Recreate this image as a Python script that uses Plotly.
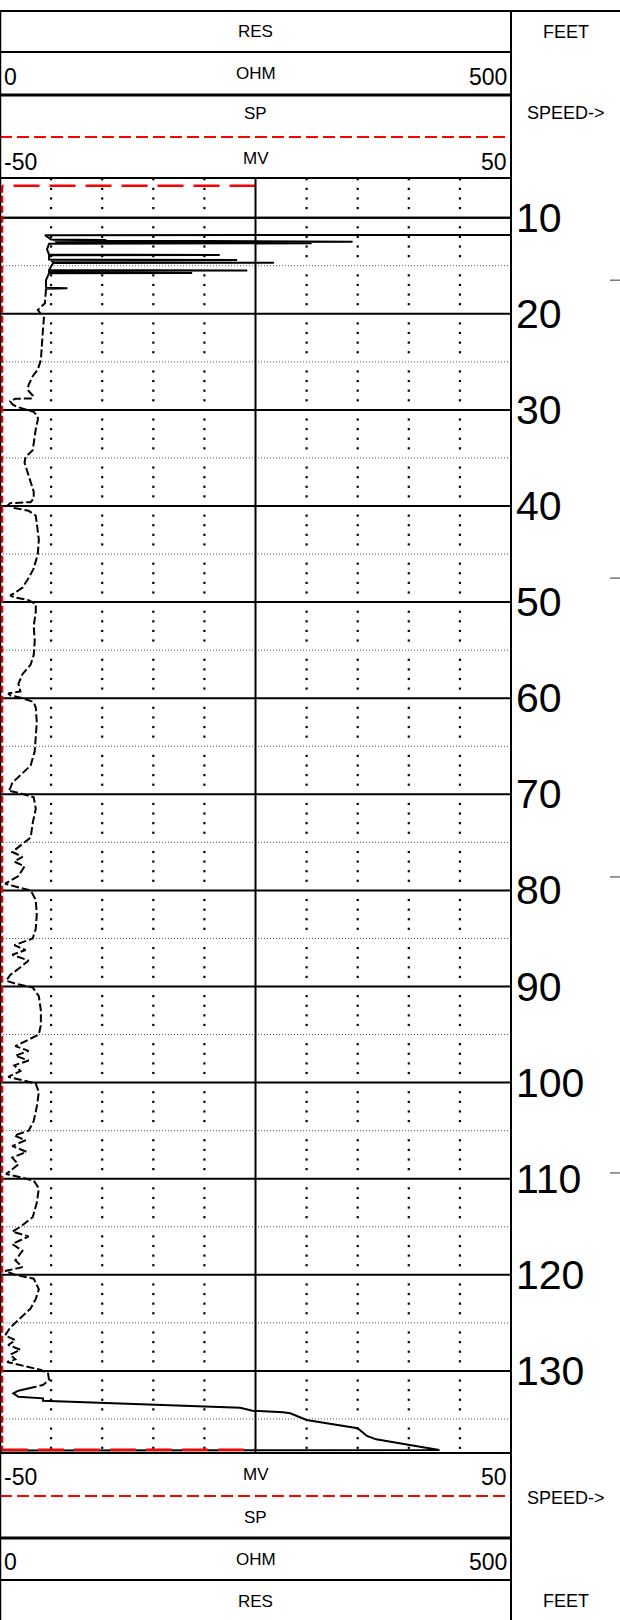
import plotly.graph_objects as go

W, H = 620, 1620

# ---------------------------------------------------------------- curve data
# Resistivity (ohm) against depth (ft): spiky section at the top of the log
res_depth_top = [10.0, 10.02, 11.78, 11.82, 12.28, 12.32, 12.36, 12.50, 12.56, 12.66,
                 12.72, 13.3, 13.84, 13.88, 13.92, 14.36, 14.40, 14.44, 14.64, 14.68,
                 14.72, 15.45, 15.49, 15.53, 15.71, 15.75, 15.79, 16.5, 17.3, 17.35, 17.4]
res_ohm_top = [0, 650, 650, 44, 50, 104, 52, 345, 54, 305,
               48, 46, 48, 215, 48, 48, 232, 50, 52, 268,
               52, 48, 242, 48, 48, 188, 48, 45, 45, 66, 45]

# main body of the log
res_depth_mid = [17.4, 18.9, 19.3, 19.6, 20.0, 20.4, 21.7, 23.0, 24.8, 25.8,
                 26.5, 27.4, 27.9, 28.5, 28.8, 28.85, 29.1, 29.4, 29.7, 30.0,
                 30.2, 30.7, 31.05, 32.0, 33.4, 34.2, 34.9, 35.5, 36.5, 37.5,
                 38.5, 39.2, 39.6, 39.7, 39.9, 40.2, 40.5, 41.0, 42.0, 43.5,
                 45.0, 46.5, 47.5, 48.5, 49.0, 49.3, 49.5, 49.8, 50.2, 51.0,
                 52.5, 54.0, 55.5, 56.5, 57.5, 58.5, 59.3, 59.5, 59.7, 60.0,
                 60.4, 61.0, 62.5, 64.0, 65.5, 67.0, 68.0, 68.8, 69.4, 69.6,
                 69.9, 70.3, 71.5, 73.0, 74.5, 75.5, 76.0, 76.5, 77.0, 77.5,
                 78.5, 79.0, 79.3, 79.6, 80.0, 81.0, 82.5, 84.0, 85.0, 85.7,
                 86.2, 86.7, 87.3, 88.0, 88.8, 89.4, 89.7, 90.1, 91.0, 92.5,
                 94.0, 95.0, 95.7, 96.2, 96.7, 97.2, 97.7, 98.2, 98.8, 99.4,
                 99.7, 100.1, 101.0, 102.5, 104.0, 105.0, 105.5, 106.0, 106.6, 107.2,
                 107.8, 108.5, 109.2, 109.5, 109.8, 110.2, 111.0, 112.5, 114.0, 115.0,
                 115.5, 116.0, 116.8, 117.5, 118.5, 119.2, 119.6, 120.0, 120.4, 121.5,
                 122.5, 123.5, 124.5, 125.5, 126.3, 126.8, 127.3, 127.8, 128.3, 128.8,
                 129.07, 129.9, 130.25, 130.95, 131.46, 131.64]
res_ohm_mid = [45, 44, 40, 37, 40, 43, 42, 41, 40, 37,
               32, 28, 27, 32, 32, 15, 10, 12, 17, 27,
               33, 37, 37, 35, 33, 32, 25, 24, 27, 30,
               33, 33, 30, 10, 8, 14, 28, 35, 36, 38,
               37, 33, 28, 22, 15, 10, 14, 28, 35, 35,
               33, 34, 33, 30, 22, 18, 20, 8, 10, 22,
               33, 35, 36, 35, 34, 30, 20, 12, 10, 8,
               20, 33, 35, 32, 30, 18, 12, 22, 14, 24,
               18, 10, 5, 15, 30, 35, 36, 35, 32, 14,
               25, 12, 28, 20, 10, 6, 15, 32, 38, 40,
               40, 38, 25, 15, 28, 15, 28, 14, 20, 8,
               20, 35, 38, 36, 33, 28, 14, 25, 12, 26,
               12, 18, 10, 6, 18, 33, 38, 36, 32, 20,
               12, 28, 12, 22, 15, 22, 5, 15, 33, 38,
               35, 30, 20, 10, 5, 15, 8, 20, 10, 15,
               7, 40, 47, 48, 42, 35]

# basal section where the tool leaves the formation
res_depth_base = [131.64, 132.06, 132.33, 132.69, 132.85, 133.10, 133.83, 134.14, 134.31, 134.41,
                  135.11, 135.81, 135.97, 136.77, 137.12, 137.89, 138.23, 138.28]
res_ohm_base = [35, 18, 13, 18, 42, 42, 235, 247, 277, 284,
                300, 339, 350, 359, 368, 411, 430, 0]

# Spontaneous potential (mV)
sp_depth = [6.67, 6.67, 138.2, 138.2]
sp_mv = [0.0, -49.6, -49.6, 0.0]

depth_labels = [10, 20, 30, 40, 50, 60, 70, 80, 90, 100, 110, 120, 130, 140]
speed_marks = [16.5, 47.5, 78.6, 109.4]
res_divisions = [50, 100, 150, 200, 300, 350, 400, 450]

TOP_DEPTH, BASE_DEPTH = 5.87, 138.54
RES_RANGE = [0, 500]
SP_RANGE = [-50, 50]

# ---------------------------------------------------------------- geometry
TRACK_RIGHT = 511
PLOT_TOP, PLOT_BOTTOM = 178, 1453
FONT = "Liberation Sans, Arial, sans-serif"
RED = "#ff0000"


def fx(px):
    return px / W


def fy(py):
    return 1 - py / H


fig = go.Figure()

# tick dots on the vertical divisions, one per foot
dot_x, dot_y = [], []
for d in range(6, 139):
    if d % 5 == 0:
        continue
    for v in res_divisions:
        dot_x.append(v)
        dot_y.append(d)
fig.add_trace(go.Scatter(x=dot_x, y=dot_y, mode="markers", hoverinfo="skip",
                         marker=dict(symbol="square", size=2.2, color="black",
                                     line=dict(width=0))))

# SP curve: the dash pattern is stretched along the horizontal runs
sp_parts = [(slice(0, 2), "26px,10px"), (slice(1, 3), "7px,3px"), (slice(2, 4), "26px,10px")]
for part, dash in sp_parts:
    fig.add_trace(go.Scatter(x=sp_mv[part], y=sp_depth[part], xaxis="x2", mode="lines",
                             line=dict(color=RED, width=2.5, dash=dash)))

# resistivity curve
fig.add_trace(go.Scatter(x=res_ohm_top, y=res_depth_top, mode="lines",
                         line=dict(color="black", width=2)))
fig.add_trace(go.Scatter(x=res_ohm_mid, y=res_depth_mid, mode="lines",
                         line=dict(color="black", width=2, dash="8px,3px")))
fig.add_trace(go.Scatter(x=res_ohm_base, y=res_depth_base, mode="lines",
                         line=dict(color="black", width=2)))

shapes = []


def hline_px(y, x0, x1, width=2, color="black", dash="solid"):
    shapes.append(dict(type="line", xref="paper", yref="paper",
                       x0=fx(x0), x1=fx(x1), y0=fy(y), y1=fy(y),
                       line=dict(color=color, width=width, dash=dash)))


def vline_px(x, y0, y1, width=2, color="black"):
    shapes.append(dict(type="line", xref="paper", yref="paper",
                       x0=fx(x), x1=fx(x), y0=fy(y0), y1=fy(y1),
                       line=dict(color=color, width=width)))


# depth grid
for d in range(10, 140, 10):
    shapes.append(dict(type="line", xref="paper", yref="y", x0=0, x1=fx(TRACK_RIGHT),
                       y0=d, y1=d, line=dict(color="black", width=2), layer="below"))
for d in range(15, 140, 10):
    shapes.append(dict(type="line", xref="paper", yref="y", x0=0, x1=fx(TRACK_RIGHT),
                       y0=d, y1=d, line=dict(color="#555", width=1, dash="1px,2px"),
                       layer="below"))
# centre line of the track
shapes.append(dict(type="line", xref="x", yref="paper", x0=250, x1=250,
                   y0=fy(PLOT_BOTTOM), y1=fy(PLOT_TOP), line=dict(color="black", width=2)))

# header block
hline_px(11, 0, W)
hline_px(52, 0, TRACK_RIGHT)
hline_px(95, 0, TRACK_RIGHT, width=3)
hline_px(137, 0, TRACK_RIGHT, width=2, color=RED, dash="12px,5px")
hline_px(PLOT_TOP, 0, TRACK_RIGHT)
# footer block
hline_px(PLOT_BOTTOM, 0, TRACK_RIGHT)
hline_px(1496, 0, TRACK_RIGHT, width=2, color=RED, dash="12px,5px")
hline_px(1538, 0, TRACK_RIGHT, width=3)
hline_px(1580, 0, TRACK_RIGHT)
# borders
vline_px(TRACK_RIGHT, 11, H)
vline_px(0.5, 11, H, width=1.5)

# speed marks in the depth column
for d in speed_marks:
    shapes.append(dict(type="line", xref="paper", yref="y", x0=fx(610), x1=1,
                       y0=d, y1=d, line=dict(color="#333", width=1)))

annotations = []


def label(text, x, y, size, anchor="center"):
    annotations.append(dict(text=text, x=fx(x), y=fy(y), xref="paper", yref="paper",
                            xanchor=anchor, yanchor="middle", showarrow=False,
                            font=dict(family=FONT, size=size, color="black")))


MID = TRACK_RIGHT / 2
for (y_res, y_ohm, y_num_ohm, y_sp, y_mv, y_num_mv, y_feet, y_speed) in [
        (32, 73, 77, 113, 158, 162, 32, 113),
        (1601, 1559, 1562, 1517, 1474, 1477, 1601, 1498)]:
    label("RES", MID, y_res, 17)
    label("OHM", MID, y_ohm, 17)
    label("0", 2, y_num_ohm, 23, "left")
    label("500", 509, y_num_ohm, 23, "right")
    label("SP", MID, y_sp, 17)
    label("MV", MID, y_mv, 17)
    label("-50", 2, y_num_mv, 23, "left")
    label("50", 509, y_num_mv, 23, "right")
    label("FEET", 566, y_feet, 18)
    label("SPEED->", 566, y_speed, 18)

for d in depth_labels:
    annotations.append(dict(text=str(d), x=fx(514), y=d, xref="paper", yref="y",
                            xanchor="left", yanchor="middle", showarrow=False,
                            font=dict(family=FONT, size=41, color="black")))

fig.update_layout(
    width=W, height=H, margin=dict(l=0, r=0, t=0, b=0),
    paper_bgcolor="white", plot_bgcolor="white", showlegend=False,
    xaxis=dict(domain=[0, fx(TRACK_RIGHT)], range=RES_RANGE, visible=False, fixedrange=True),
    xaxis2=dict(overlaying="x", range=SP_RANGE, visible=False, anchor="y"),
    yaxis=dict(domain=[fy(PLOT_BOTTOM), fy(PLOT_TOP)], range=[BASE_DEPTH, TOP_DEPTH],
               visible=False),
    shapes=shapes, annotations=annotations,
)

fig.write_html("out.html")
